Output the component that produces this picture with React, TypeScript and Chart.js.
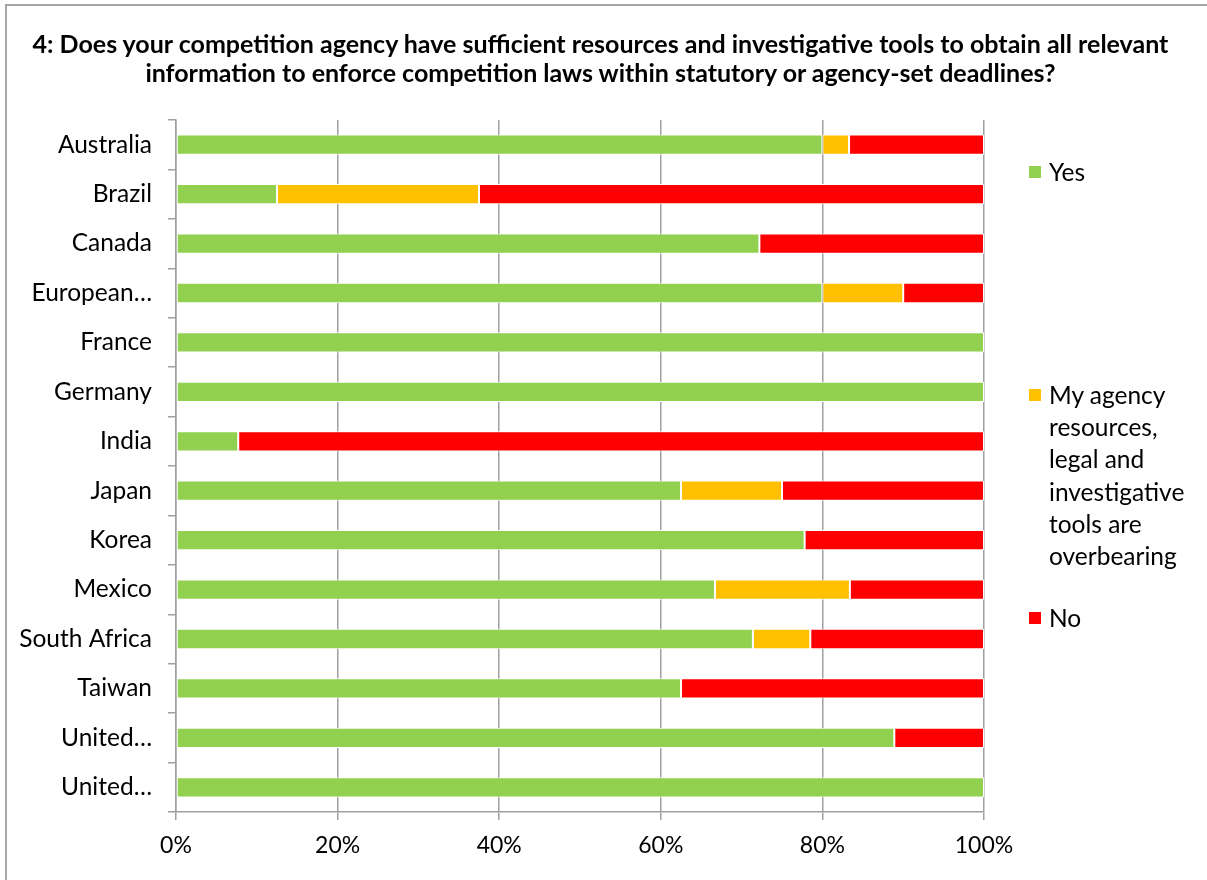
import React, { useEffect, useRef } from "react";
import { Chart, registerables } from "chart.js";

Chart.register(...registerables);

const categories = [
  "Australia",
  "Brazil",
  "Canada",
  "European…",
  "France",
  "Germany",
  "India",
  "Japan",
  "Korea",
  "Mexico",
  "South Africa",
  "Taiwan",
  "United…",
  "United…",
];

const yesValues = [80, 12.5, 72.2, 80, 100, 100, 7.7, 62.5, 77.8, 66.7, 71.4, 62.5, 88.9, 100];
const overbearingValues = [3.3, 25, 0, 10, 0, 0, 0, 12.5, 0, 16.7, 7.1, 0, 0, 0];
const noValues = [16.7, 62.5, 27.8, 10, 0, 0, 92.3, 25, 22.2, 16.6, 21.5, 37.5, 11.1, 0];

const xTicks = [0, 20, 40, 60, 80, 100];

const seriesNames = [
  "Yes",
  "My agency resources, legal and investigative tools are overbearing",
  "No",
];
const seriesColors = ["#92D050", "#FFC000", "#FF0000"];

const titleLines = [
  "4: Does your competition agency have sufficient resources and investigative tools to obtain all relevant",
  "information to enforce competition laws within statutory or agency-set deadlines?",
];

const legendLines = [
  ["Yes"],
  ["My agency", "resources,", "legal and", "investigative", "tools are", "overbearing"],
  ["No"],
];

const FONT = "Lato, 'Open Sans', sans-serif";

export default function App() {
  const canvasRef = useRef<HTMLCanvasElement | null>(null);

  useEffect(() => {
    if (!canvasRef.current) return;
    const chart = new Chart(canvasRef.current, {
      type: "bar",
      data: {
        labels: categories,
        datasets: [
          { label: seriesNames[0], data: yesValues, backgroundColor: seriesColors[0] },
          { label: seriesNames[1], data: overbearingValues, backgroundColor: seriesColors[1] },
          { label: seriesNames[2], data: noValues, backgroundColor: seriesColors[2] },
        ].map((d) => ({
          ...d,
          borderColor: "#ffffff",
          borderWidth: 1,
          borderSkipped: false,
          categoryPercentage: 0.41,
          barPercentage: 1,
        })),
      },
      options: {
        indexAxis: "y",
        responsive: false,
        animation: false,
        layout: { padding: { left: 0, right: 223, top: 120, bottom: 0 } },
        plugins: {
          legend: { display: false },
          title: { display: false },
          tooltip: { enabled: false },
        },
        scales: {
          x: {
            stacked: true,
            min: 0,
            max: 100,
            afterFit: (s: any) => {
              s.height = 68;
            },
            afterBuildTicks: (s: any) => {
              s.ticks = xTicks.map((v) => ({ value: v }));
            },
            ticks: {
              color: "#000",
              font: { family: FONT, size: 23 },
              padding: 12,
              callback: (v: any) => v + "%",
              maxRotation: 0,
            },
            grid: {
              color: "#a0a0a0",
              lineWidth: 1.5,
              tickLength: 8,
              drawTicks: true,
            },
            border: { display: true, color: "#a0a0a0", width: 1.5 },
          },
          y: {
            stacked: true,
            afterFit: (s: any) => {
              s.width = 176;
            },
            ticks: {
              color: "#000",
              font: { family: FONT, size: 24.5 },
              padding: 16,
              autoSkip: false,
            },
            grid: {
              drawOnChartArea: false,
              drawTicks: true,
              tickLength: 8,
              offset: true,
              color: "#a0a0a0",
              lineWidth: 1.5,
            },
            border: { display: true, color: "#a0a0a0", width: 1.5 },
          },
        },
      },
    });
    return () => chart.destroy();
  }, []);

  const legendTops = [156, 379, 602];

  return (
    <div
      style={{
        position: "absolute",
        left: 0,
        top: 0,
        width: 1207,
        height: 880,
        background: "#fff",
        overflow: "hidden",
      }}
    >
      <div
        style={{
          position: "absolute",
          left: 5,
          top: 4,
          width: 1300,
          height: 1000,
          border: "2px solid #a6a6a6",
        }}
      />
      <canvas
        ref={canvasRef}
        width={1207}
        height={880}
        style={{ position: "absolute", left: 0, top: 0, width: 1207, height: 880 }}
      />
      <div
        style={{
          position: "absolute",
          left: 0,
          top: 29,
          width: 1201,
          textAlign: "center",
          fontFamily: FONT,
          fontWeight: 700,
          fontSize: 25,
          lineHeight: "29px",
          color: "#000",
          whiteSpace: "nowrap",
        }}
      >
        {titleLines.map((t, i) => (
          <div key={i}>{t}</div>
        ))}
      </div>
      {legendLines.map((lines, i) => (
        <div
          key={i}
          style={{
            position: "absolute",
            left: 1029,
            top: legendTops[i],
            fontFamily: FONT,
            fontSize: 24.5,
            lineHeight: "32.2px",
            color: "#000",
            whiteSpace: "nowrap",
          }}
        >
          <div
            style={{
              position: "absolute",
              left: 0,
              top: 10,
              width: 12,
              height: 12,
              background: seriesColors[i],
            }}
          />
          <div style={{ marginLeft: 20 }}>
            {lines.map((l, j) => (
              <div key={j}>{l}</div>
            ))}
          </div>
        </div>
      ))}
    </div>
  );
}
